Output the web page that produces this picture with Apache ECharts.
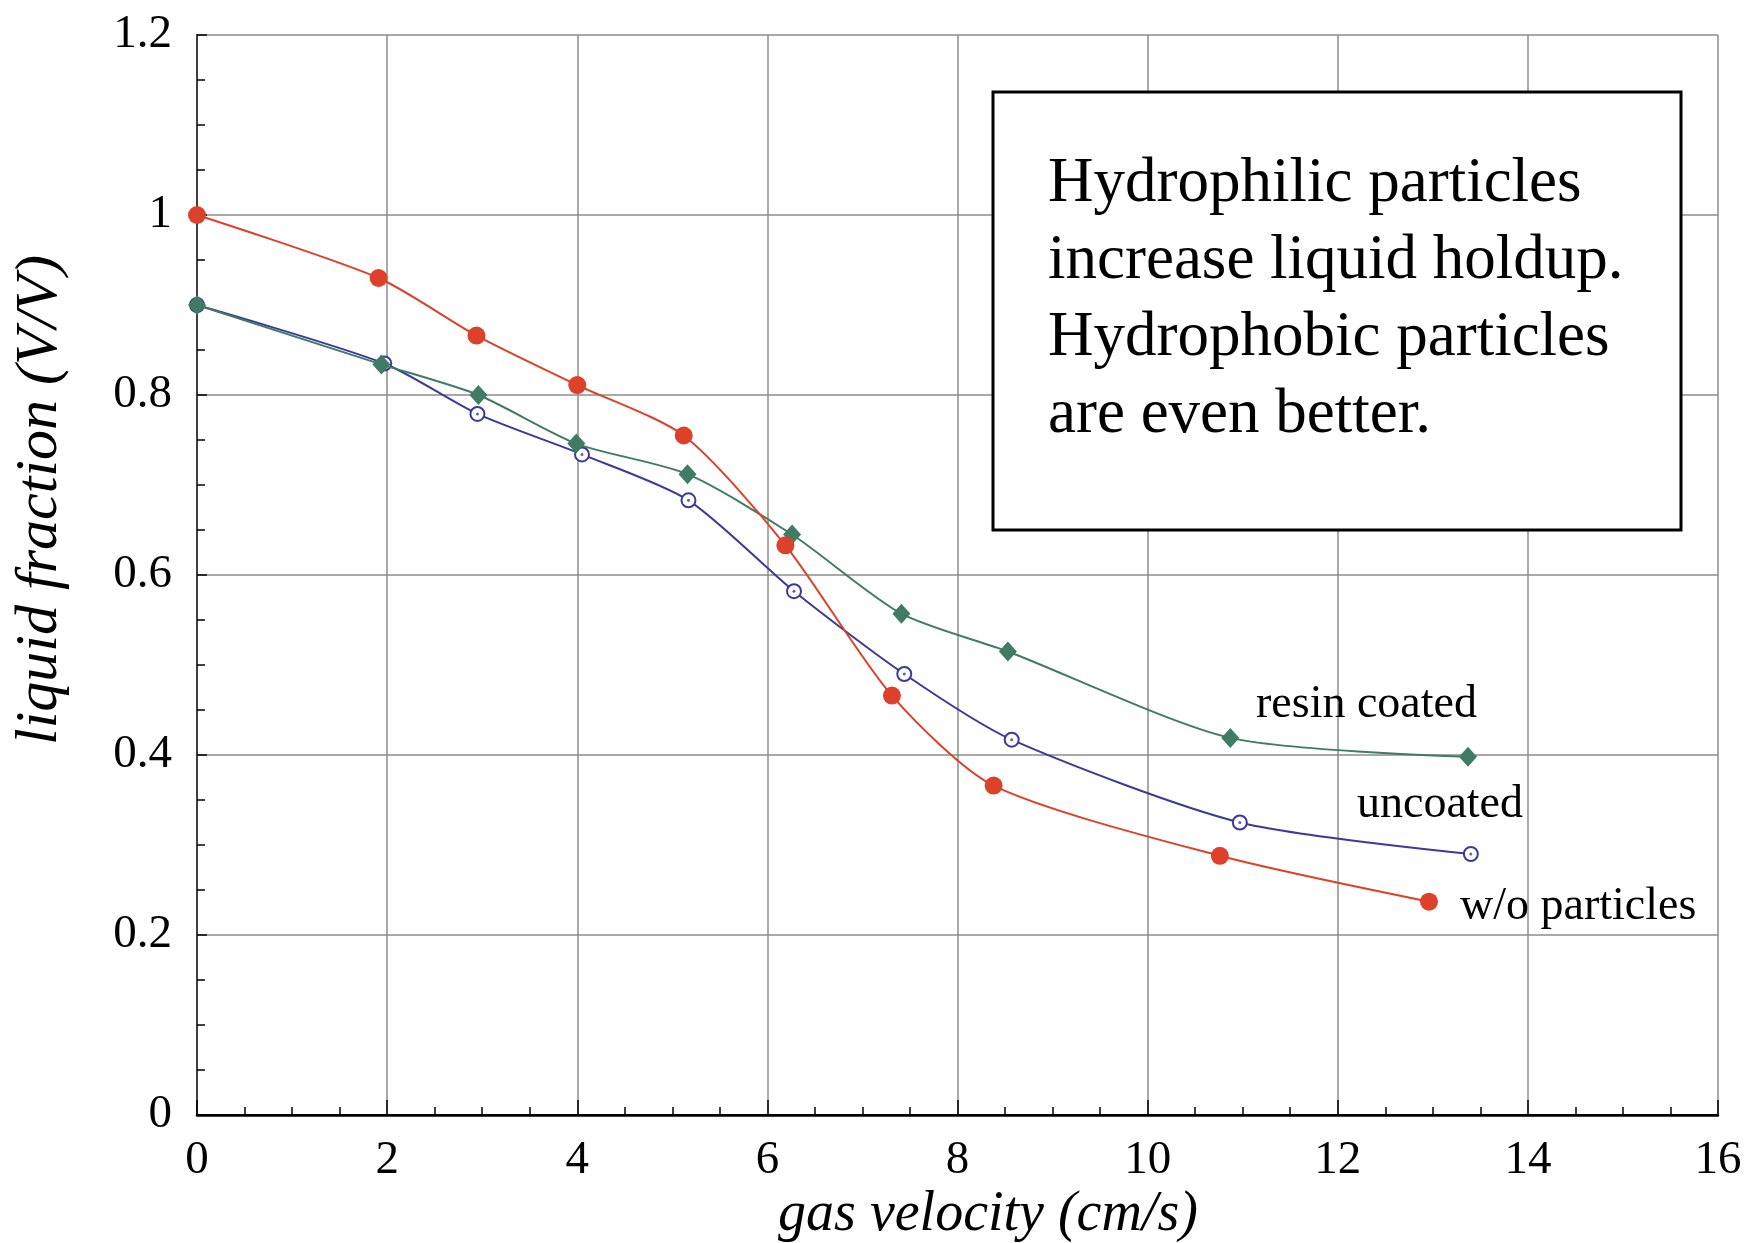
<!DOCTYPE html>
<html><head><meta charset="utf-8">
<script src="https://cdn.jsdelivr.net/npm/echarts@6/dist/echarts.min.js"></script>
<style>html,body{margin:0;padding:0;background:#fff}#c{width:1761px;height:1243px}</style>
</head><body><div id="c"></div>
<script>
// ---- data ----
const xNoParticles = [0, 1.91, 2.94, 4.00, 5.12, 6.19, 7.31, 8.38, 10.76, 12.96];
const yNoParticles = [1.0, 0.930, 0.866, 0.811, 0.755, 0.633, 0.466, 0.366, 0.288, 0.237];
const xUncoated = [0, 1.97, 2.95, 4.05, 5.17, 6.28, 7.44, 8.57, 10.97, 13.40];
const yUncoated = [0.9, 0.835, 0.779, 0.734, 0.683, 0.582, 0.490, 0.417, 0.325, 0.290];
const xResin = [0, 1.94, 2.96, 3.99, 5.16, 6.26, 7.41, 8.53, 10.87, 13.37];
const yResin = [0.9, 0.834, 0.800, 0.746, 0.712, 0.645, 0.557, 0.515, 0.419, 0.398];
const seriesNames = ['w/o particles', 'uncoated', 'resin coated'];
const noteLines = ['Hydrophilic particles', 'increase liquid holdup.', 'Hydrophobic particles', 'are even better.'];
const xTitle = 'gas velocity (cm/s)';
const yTitle = 'liquid fraction (V/V)';

const FONT = '"Liberation Serif", "Times New Roman", serif';
const RED = '#dd4129', BLUE = '#3b3a99', GREEN = '#3f7c63';
const pairs = (xs, ys) => xs.map((x, i) => [x, ys[i]]);

const chart = echarts.init(document.getElementById('c'), null, {renderer: 'canvas'});
const tickLabel = {fontFamily: FONT, fontSize: 47, color: '#000'};
const option = {
  animation: false,
  backgroundColor: '#fff',
  grid: {left: 197, right: 43, top: 35, bottom: 128, containLabel: false},
  xAxis: [{
    type: 'value', min: 0, max: 16, interval: 2,
    axisLine: {show: true, lineStyle: {color: '#000', width: 2.5}},
    axisTick: {show: true, inside: true, length: 15, lineStyle: {color: '#000', width: 1.5}},
    minorTick: {show: true, splitNumber: 4, length: 8, lineStyle: {color: '#000', width: 1.5}},
    splitLine: {show: true, lineStyle: {color: '#8c8c8c', width: 1.5}},
    axisLabel: Object.assign({margin: 22}, tickLabel)
  }, {
    type: 'value', min: 0, max: 16, interval: 2, position: 'top',
    axisLine: {show: true, lineStyle: {color: '#000', width: 2}},
    axisTick: {show: false}, axisLabel: {show: false}, splitLine: {show: false}
  }],
  yAxis: [{
    type: 'value', min: 0, max: 1.2, interval: 0.2,
    axisLine: {show: true, lineStyle: {color: '#000', width: 2}},
    axisTick: {show: true, inside: true, length: 10, lineStyle: {color: '#000', width: 1.5}},
    minorTick: {show: true, splitNumber: 4, length: 8, lineStyle: {color: '#000', width: 1.5}},
    splitLine: {show: true, lineStyle: {color: '#8c8c8c', width: 1.5}},
    axisLabel: Object.assign({margin: 25}, tickLabel)
  }, {
    type: 'value', min: 0, max: 1.2, interval: 0.2, position: 'right',
    axisLine: {show: true, lineStyle: {color: '#555', width: 1.5}},
    axisTick: {show: false}, axisLabel: {show: false}, splitLine: {show: false}
  }],
  series: [
    {
      name: seriesNames[1], type: 'line', data: pairs(xUncoated, yUncoated),
      smooth: 0.25,
      symbol: 'emptyCircle', symbolSize: 14, z: 2,
      lineStyle: {color: BLUE, width: 2},
      itemStyle: {color: BLUE, borderColor: BLUE, borderWidth: 1.5}
    },
    {
      name: seriesNames[1] + ' dot', type: 'scatter', data: pairs(xUncoated, yUncoated),
      symbol: 'circle', symbolSize: 3, z: 3, silent: true,
      itemStyle: {color: BLUE}
    },
    {
      name: seriesNames[2], type: 'line', data: pairs(xResin, yResin),
      smooth: 0.25,
      symbol: 'diamond', symbolSize: [18, 20], z: 4,
      lineStyle: {color: GREEN, width: 2},
      itemStyle: {color: GREEN}
    },
    {
      name: seriesNames[0], type: 'line', data: pairs(xNoParticles, yNoParticles),
      smooth: 0.25,
      symbol: 'circle', symbolSize: 18, z: 5,
      lineStyle: {color: RED, width: 2},
      itemStyle: {color: RED}
    }
  ],
  graphic: [
    {type: 'rect', z: 100, shape: {x: 993, y: 92, width: 688, height: 438},
     style: {fill: '#fff', stroke: '#000', lineWidth: 3}},
    {type: 'text', z: 101, x: 1048, y: 146,
     style: {text: noteLines.join('\n'), font: '63px ' + FONT, lineHeight: 77, fill: '#000', align: 'left', verticalAlign: 'top'}},
    {type: 'text', z: 101, x: 1256, y: 705,
     style: {text: seriesNames[2], font: '46px ' + FONT, fill: '#000', align: 'left', verticalAlign: 'middle'}},
    {type: 'text', z: 101, x: 1357, y: 805,
     style: {text: seriesNames[1], font: '46px ' + FONT, fill: '#000', align: 'left', verticalAlign: 'middle'}},
    {type: 'text', z: 101, x: 1460, y: 907,
     style: {text: seriesNames[0], font: '46px ' + FONT, fill: '#000', align: 'left', verticalAlign: 'middle'}},
    {type: 'text', z: 101, x: 988, y: 1215,
     style: {text: xTitle, font: 'italic 56px ' + FONT, fill: '#000', align: 'center', verticalAlign: 'middle'}},
    {type: 'text', z: 101, x: 40, y: 500, rotation: Math.PI / 2,
     style: {text: yTitle, font: 'italic 60px ' + FONT, fill: '#000', align: 'center', verticalAlign: 'middle'}}
  ]
};
chart.setOption(option);
</script>
</body></html>
